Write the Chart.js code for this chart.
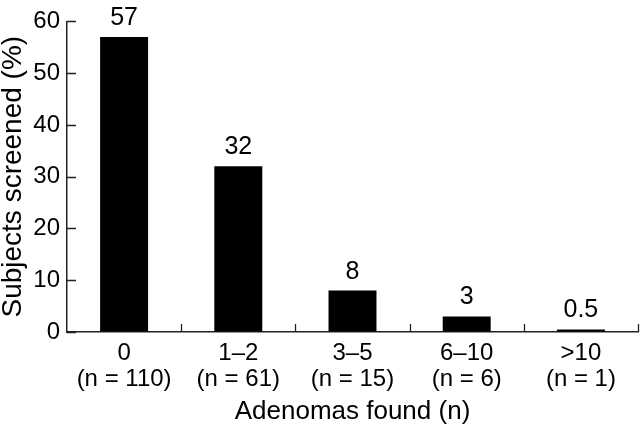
<!DOCTYPE html>
<html>
<head>
<meta charset="utf-8">
<script src="https://cdn.jsdelivr.net/npm/chart.js@4"></script>
<style>
  html, body { margin: 0; padding: 0; background: #fff; }
  #wrap { width: 640px; height: 435px; }
</style>
</head>
<body>
<div id="wrap"><canvas id="grafico" width="640" height="435"></canvas></div>
<script>
// dados
const categorias = ['0', '1\u20132', '3\u20135', '6\u201310', '>10'];
const contagens = ['(n = 110)', '(n = 61)', '(n = 15)', '(n = 6)', '(n = 1)'];
const percentuais = [57, 32, 8, 3, 0.5];
const rotulosBarra = ['57', '32', '8', '3', '0.5'];
const ticksY = [0, 10, 20, 30, 40, 50, 60];

const fonte = "'Liberation Sans', Arial, sans-serif";

// rotulos acima das barras
const pluginRotulos = {
  id: 'rotulos',
  afterDatasetsDraw(chart) {
    const ctx = chart.ctx;
    const meta = chart.getDatasetMeta(0);
    ctx.save();
    ctx.fillStyle = '#000';
    ctx.font = '25px ' + fonte;
    ctx.textAlign = 'center';
    ctx.textBaseline = 'alphabetic';
    meta.data.forEach((barra, i) => {
      ctx.fillText(rotulosBarra[i], barra.x, barra.y - 12);
    });
    ctx.restore();
  }
};

// marcas dos eixos para dentro
const pluginMarcas = {
  id: 'marcas',
  afterDraw(chart) {
    const ctx = chart.ctx;
    const area = chart.chartArea;
    const x = chart.scales.x;
    const y = chart.scales.y;
    ctx.save();
    ctx.strokeStyle = '#222';
    ctx.lineWidth = 1.3;
    ctx.beginPath();
    ticksY.forEach(v => {
      const py = Math.round(y.getPixelForValue(v)) + 0.5;
      ctx.moveTo(area.left, py);
      ctx.lineTo(area.left + 9, py);
    });
    const passo = x.getPixelForTick(1) - x.getPixelForTick(0);
    for (let i = 0; i < categorias.length; i++) {
      const px = Math.round(x.getPixelForTick(i) + passo / 2) + 0.5;
      ctx.moveTo(px, area.bottom);
      ctx.lineTo(px, area.bottom - 8);
    }
    ctx.stroke();
    ctx.restore();
  }
};

const grafico = new Chart(document.getElementById('grafico').getContext('2d'), {
  type: 'bar',
  data: {
    labels: categorias.map((c, i) => [c, contagens[i]]),
    datasets: [{
      data: percentuais,
      backgroundColor: '#000',
      borderWidth: 0,
      barPercentage: 0.42,
      categoryPercentage: 1
    }]
  },
  options: {
    responsive: false,
    animation: false,
    layout: { padding: { top: 17, right: 2, left: 0, bottom: 0 } },
    plugins: {
      legend: { display: false },
      tooltip: { enabled: false }
    },
    scales: {
      x: {
        grid: { display: true, drawOnChartArea: false, drawTicks: false },
        border: { display: true, color: '#222', width: 1.5 },
        ticks: {
          color: '#000',
          font: { family: fonte, size: 24, lineHeight: 1.1 },
          padding: 8,
          maxRotation: 0
        },
        title: {
          display: true,
          text: 'Adenomas found (n)',
          color: '#000',
          font: { family: fonte, size: 26 },
          padding: { top: 0, bottom: 8 }
        },
        afterFit(scale) { scale.height = 103; }
      },
      y: {
        min: 0,
        max: 60,
        grid: { display: true, drawOnChartArea: false, drawTicks: false },
        border: { display: true, color: '#222', width: 1.5 },
        ticks: {
          stepSize: 10,
          color: '#000',
          font: { family: fonte, size: 24 },
          padding: 7
        },
        title: {
          display: true,
          text: 'Subjects screened (%)',
          color: '#000',
          font: { family: fonte, size: 28 },
          padding: { top: -4, bottom: 0 }
        },
        afterFit(scale) { scale.width = 67; }
      }
    }
  },
  plugins: [pluginRotulos, pluginMarcas]
});
</script>
</body>
</html>
